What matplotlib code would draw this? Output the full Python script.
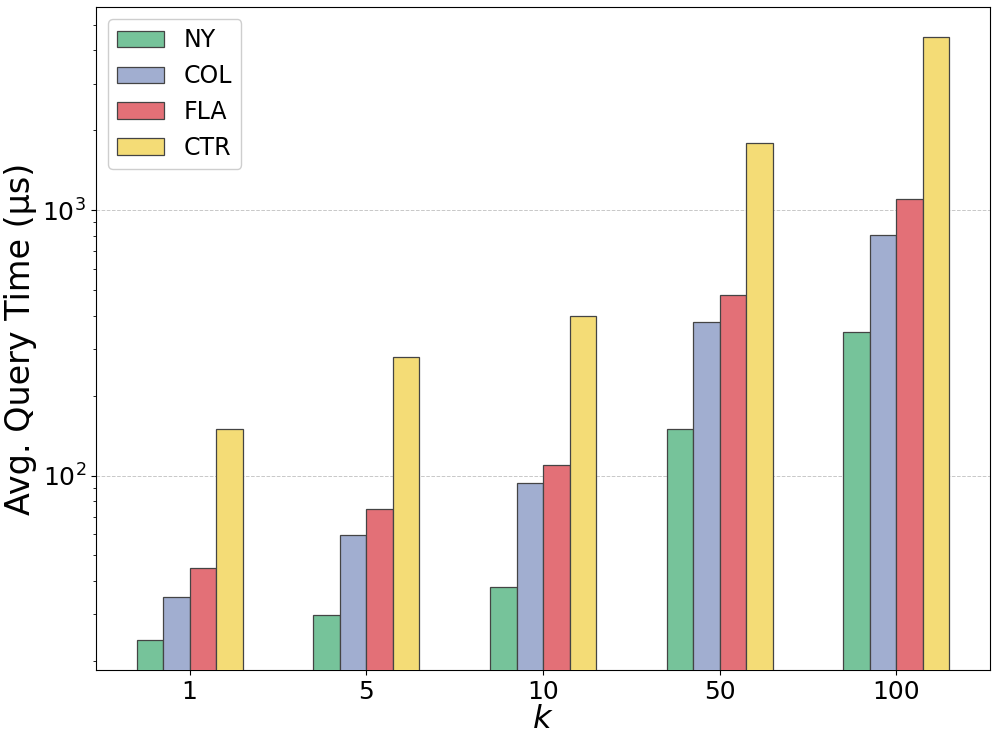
import matplotlib
matplotlib.use('Agg')
import matplotlib.pyplot as plt
import numpy as np

# Значения k и среднее время запроса (мкс) по наборам данных
k_values = ['1', '5', '10', '50', '100']
datasets = ['NY', 'COL', 'FLA', 'CTR']
ny_times = [23.9, 29.8, 37.9, 149.6, 348]
col_times = [34.9, 59.8, 93.9, 380, 803]
fla_times = [44.8, 75.0, 109.7, 479, 1097]
ctr_times = [149.6, 280, 400, 1792, 4490]

colors = ['#76c39a', '#a1aed0', '#e37077', '#f4dc76']


def create_plot():
    fig = plt.figure(figsize=(9.96, 7.44), dpi=100)
    ax = fig.add_axes([0.0964, 0.0995, 0.8976, 0.8911])

    x = np.arange(len(k_values))
    width = 0.15
    series = [ny_times, col_times, fla_times, ctr_times]

    for i, (name, vals) in enumerate(zip(datasets, series)):
        offset = (i - 1.5) * width
        ax.bar(x + offset, vals, width, label=name, color=colors[i],
               edgecolor='#444444', linewidth=0.9, zorder=3)

    ax.set_yscale('log')
    ax.set_ylim(18.5, 5830)
    ax.set_xticks(x)
    ax.set_xticklabels(k_values)

    ax.set_xlabel('$k$', fontsize=23, labelpad=0)
    ax.set_ylabel('Avg. Query Time (μs)', fontsize=24)
    ax.tick_params(axis='both', which='major', labelsize=18)

    ax.yaxis.grid(True, which='major', linestyle='--', color='#c8c8c8',
                  linewidth=0.7, zorder=0)
    ax.legend(loc='upper left', fontsize=17, framealpha=0.95)

    plt.savefig('out.png', dpi=100)
    plt.close()


if __name__ == "__main__":
    create_plot()
